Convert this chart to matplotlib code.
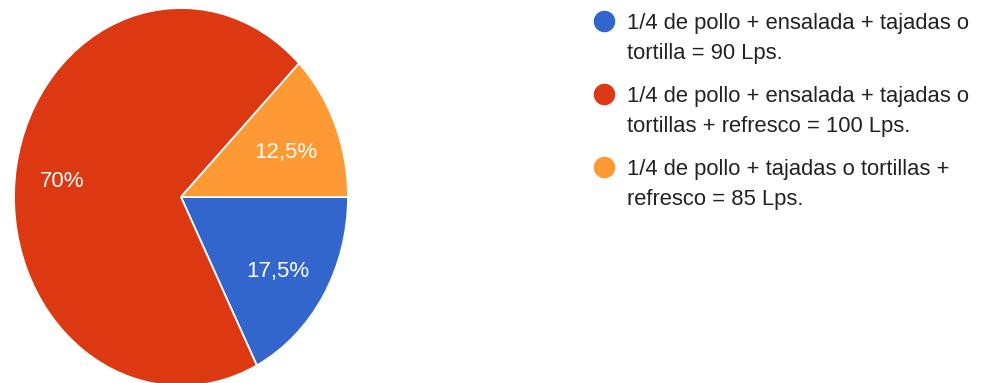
import matplotlib.pyplot as plt
from matplotlib.lines import Line2D

plt.rcParams['font.family'] = ['Liberation Sans', 'DejaVu Sans']

# data
labels = ["1/4 de pollo + ensalada + tajadas o\ntortilla = 90 Lps.",
          "1/4 de pollo + ensalada + tajadas o\ntortillas + refresco = 100 Lps.",
          "1/4 de pollo + tajadas o tortillas +\nrefresco = 85 Lps."]
shares = [17.5, 70, 12.5]
colors = ["#3366cc", "#dc3912", "#ff9933"]


def pct_label(p):
    s = f"{p:.1f}".rstrip("0").rstrip(".")
    return s.replace(".", ",") + "%"


W, H = 988, 383
fig = plt.figure(figsize=(W / 100, H / 100), dpi=100)

# pie is a bit taller than wide in the reference
cx, cy, rx, ry = 181, 197, 167, 189
ax = fig.add_axes([(cx - rx) / W, (H - cy - ry) / H, 2 * rx / W, 2 * ry / H])
wedges, texts, autotexts = ax.pie(shares, colors=colors, startangle=0, counterclock=False,
                                  autopct=pct_label, pctdistance=0.7,
                                  wedgeprops=dict(edgecolor="white", linewidth=1.3),
                                  textprops=dict(color="white", fontsize=16))
for t in autotexts:
    x, y = t.get_position()
    t.set_position((x - 0.02, y - 0.03))
ax.set_aspect("auto")
ax.set_xlim(-1, 1)
ax.set_ylim(-1, 1)
ax.axis("off")

# legend, drawn by hand so the marker sits on the first line
for i, (lab, col) in enumerate(zip(labels, colors)):
    ytop = 13 + i * 73
    fig.text(627 / W, 1 - ytop / H, lab, va="top", ha="left", fontsize=15.8,
             color="#222222", linespacing=1.58)
    fig.add_artist(Line2D([604 / W], [1 - (ytop + 8) / H], marker="o", markersize=14.5,
                          color=col, transform=fig.transFigure))

fig.savefig("out.png", dpi=100)
